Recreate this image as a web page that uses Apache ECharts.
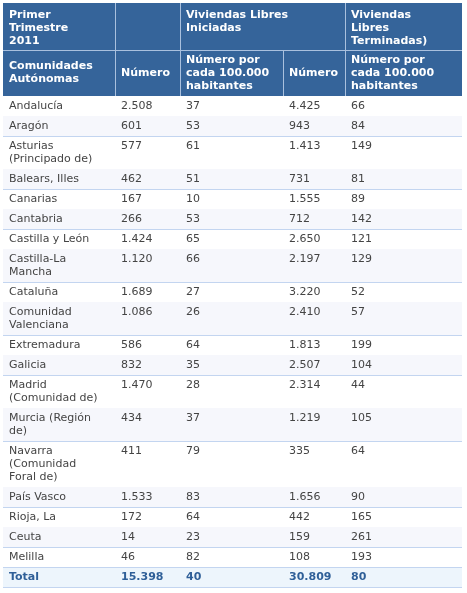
<!DOCTYPE html>
<html>
<head>
<meta charset="utf-8">
<script src="https://cdn.jsdelivr.net/npm/echarts@6/dist/echarts.min.js"></script>
<style>html,body{margin:0;padding:0;background:#fff}#main{width:467px;height:593px}</style>
</head>
<body>
<div id="main"></div>
<script>
var regions = ['Andalucía', 'Aragón', 'Asturias\n(Principado de)', 'Balears, Illes', 'Canarias', 'Cantabria',
  'Castilla y León', 'Castilla-La\nMancha', 'Cataluña', 'Comunidad\nValenciana', 'Extremadura', 'Galicia',
  'Madrid\n(Comunidad de)', 'Murcia (Región\nde)', 'Navarra\n(Comunidad\nForal de)', 'País Vasco', 'Rioja, La',
  'Ceuta', 'Melilla'];
var iniciadas = ['2.508', '601', '577', '462', '167', '266', '1.424', '1.120', '1.689', '1.086', '586', '832',
  '1.470', '434', '411', '1.533', '172', '14', '46'];
var iniciadasHab = ['37', '53', '61', '51', '10', '53', '65', '66', '27', '26', '64', '35', '28', '37', '79', '83', '64', '23', '82'];
var terminadas = ['4.425', '943', '1.413', '731', '1.555', '712', '2.650', '2.197', '3.220', '2.410', '1.813', '2.507',
  '2.314', '1.219', '335', '1.656', '442', '159', '108'];
var terminadasHab = ['66', '84', '149', '81', '89', '142', '121', '129', '52', '57', '199', '104', '44', '105', '64', '90', '165', '261', '193'];
var total = ['Total', '15.398', '40', '30.809', '80'];
var header1 = ['Primer\nTrimestre\n2011', '', 'Viviendas Libres\nIniciadas', '', 'Viviendas\nLibres\nTerminadas)'];
var header2 = ['Comunidades\nAutónomas', 'Número', 'Número por\ncada 100.000\nhabitantes', 'Número', 'Número por\ncada 100.000\nhabitantes'];

(function () {
  var colX = [3, 115, 180, 283, 345, 462];
  var font = 'DejaVu Sans, Verdana, sans-serif';
  var els = [];
  var tableTop = 3, lineH = 13;

  // header background
  els.push({ type: 'rect', shape: { x: 3, y: tableTop, width: 459, height: 93 }, style: { fill: '#35649a' } });
  els.push({ type: 'line', shape: { x1: 3, y1: 50.5, x2: 462, y2: 50.5 }, style: { stroke: '#a9c0de', lineWidth: 1 } });
  [1, 2, 4].forEach(function (c) {
    els.push({ type: 'line', shape: { x1: colX[c] + 0.5, y1: tableTop, x2: colX[c] + 0.5, y2: 96 }, style: { stroke: '#a9c0de' } });
  });
  els.push({ type: 'line', shape: { x1: colX[3] + 0.5, y1: 50, x2: colX[3] + 0.5, y2: 96 }, style: { stroke: '#a9c0de' } });
  header1.forEach(function (t, c) {
    if (t) els.push({ type: 'text', x: colX[c] + 6, y: tableTop + 6, style: { text: t, fill: '#fff', font: 'bold 11px ' + font, lineHeight: lineH } });
  });
  header2.forEach(function (t, c) {
    els.push({ type: 'text', x: colX[c] + 6, y: 73, style: { text: t, fill: '#fff', font: 'bold 11px ' + font, lineHeight: lineH, verticalAlign: 'middle' } });
  });

  var y = 96;
  regions.forEach(function (r, i) {
    var n = r.split('\n').length;
    var h = 20 + lineH * (n - 1);
    if (i % 2 === 1) els.push({ type: 'rect', shape: { x: 3, y: y, width: 459, height: h }, style: { fill: '#f6f7fc' } });
    var vals = [r, iniciadas[i], iniciadasHab[i], terminadas[i], terminadasHab[i]];
    vals.forEach(function (v, c) {
      els.push({ type: 'text', x: colX[c] + 6, y: y + 4, style: { text: v, fill: '#444', font: '11px ' + font, lineHeight: lineH } });
    });
    y += h;
    els.push({ type: 'line', shape: { x1: 3, y1: y + 0.5, x2: 462, y2: y + 0.5 }, style: { stroke: '#c3d5f0' } });
  });
  els.push({ type: 'rect', shape: { x: 3, y: y + 1, width: 459, height: 19 }, style: { fill: '#edf5fc' } });
  total.forEach(function (v, c) {
    els.push({ type: 'text', x: colX[c] + 6, y: y + 4, style: { text: v, fill: '#2f5f98', font: 'bold 11px ' + font, lineHeight: lineH } });
  });
  y += 20;
  els.push({ type: 'line', shape: { x1: 3, y1: y + 0.5, x2: 462, y2: y + 0.5 }, style: { stroke: '#c3d5f0' } });

  var chart = echarts.init(document.getElementById('main'));
  chart.setOption({ animation: false, graphic: els });
})();
</script>
</body>
</html>
